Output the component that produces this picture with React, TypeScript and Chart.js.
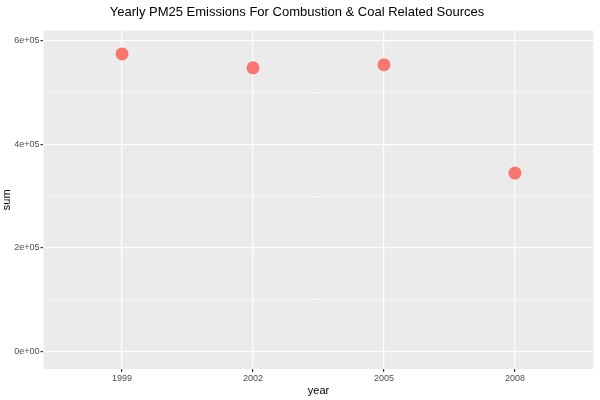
import { useEffect, useRef } from "react";
import { Chart, registerables } from "chart.js";

Chart.register(...registerables);

const years = ["1999", "2002", "2005", "2008"];
const sums = [575000, 548000, 554000, 344600];
const yTicks = [0, 100000, 200000, 300000, 400000, 500000, 600000];

const panelBg = {
  id: "panelBg",
  beforeDraw(chart: Chart) {
    const { ctx, chartArea } = chart;
    ctx.save();
    ctx.fillStyle = "#EBEBEB";
    ctx.fillRect(chartArea.left, chartArea.top, chartArea.width, chartArea.height);
    ctx.restore();
  },
};

const fmt = (v: number) => (v === 0 ? "0e+00" : `${v / 100000}e+05`);

export default function App() {
  const ref = useRef<HTMLCanvasElement>(null);

  useEffect(() => {
    if (!ref.current) return;
    document.body.style.margin = "0";
    const chart = new Chart(ref.current, {
      type: "scatter",
      data: {
        datasets: [
          {
            data: sums.map((s, i) => ({ x: i + 1, y: s })),
            backgroundColor: "#F8766D",
            borderWidth: 0,
            pointRadius: 6.5,
          },
        ],
      },
      options: {
        animation: false,
        responsive: false,
        layout: { padding: { left: 0, right: 6, bottom: 0 } },
        plugins: {
          legend: { display: false },
          tooltip: { enabled: false },
          title: {
            display: true,
            text: "Yearly PM25 Emissions For Combustion & Coal Related Sources",
            color: "#000",
            font: { family: "Liberation Sans, Arial", size: 13, weight: "normal" },
            padding: { top: 5, bottom: 10 },
          },
        },
        scales: {
          x: {
            type: "linear",
            min: 0.4,
            max: 4.6,
            afterBuildTicks: (axis) => {
              axis.ticks = years.map((_, i) => ({ value: i + 1 }));
            },
            ticks: {
              color: "#4D4D4D",
              font: { family: "Liberation Sans, Arial", size: 9 },
              callback: (v) => years[Number(v) - 1] ?? "",
              padding: 1,
            },
            grid: { color: "#FFFFFF", lineWidth: 1.2, tickLength: 3, tickColor: "#333" },
            border: { display: false },
            title: {
              display: true,
              text: "year",
              color: "#000",
              font: { family: "Liberation Sans, Arial", size: 11 },
              padding: { top: 0, bottom: 2 },
            },
          },
          y: {
            min: -34000,
            max: 620000,
            afterBuildTicks: (axis) => {
              axis.ticks = yTicks.map((v) => ({ value: v }));
            },
            ticks: {
              color: "#4D4D4D",
              font: { family: "Liberation Sans, Arial", size: 9 },
              callback: (v) => (Number(v) % 200000 === 0 ? fmt(Number(v)) : ""),
              padding: 1,
            },
            grid: {
              color: "#FFFFFF",
              lineWidth: (c) => (c.tick && c.tick.value % 200000 === 0 ? 1.2 : 0.5),
              tickLength: 3,
              tickColor: (c) => (c.tick && c.tick.value % 200000 === 0 ? "#333" : "rgba(0,0,0,0)"),
            },
            border: { display: false },
            title: {
              display: true,
              text: "sum",
              color: "#000",
              font: { family: "Liberation Sans, Arial", size: 11 },
              padding: { top: 0, bottom: 0 },
            },
          },
        },
      },
      plugins: [panelBg],
    });
    return () => chart.destroy();
  }, []);

  return <canvas ref={ref} width={600} height={400} style={{ display: "block", background: "#fff" }} />;
}
